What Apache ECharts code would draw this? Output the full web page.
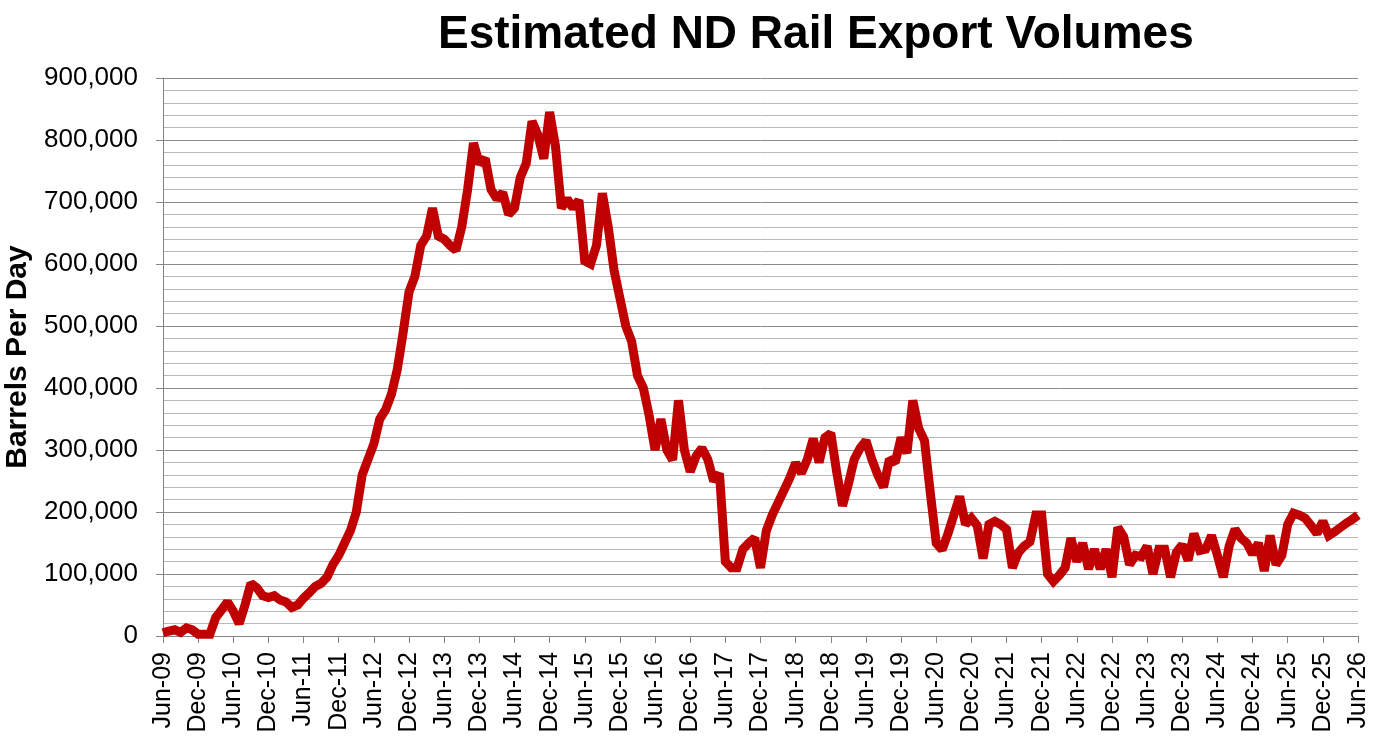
<!DOCTYPE html>
<html>
<head>
<meta charset="utf-8">
<script src="https://cdn.jsdelivr.net/npm/echarts@6/dist/echarts.min.js"></script>
<style>html,body{margin:0;padding:0;background:#fff}#c{width:1385px;height:749px}</style>
</head>
<body>
<div id="c"></div>
<script>
const monthNames = ['Jan','Feb','Mar','Apr','May','Jun','Jul','Aug','Sep','Oct','Nov','Dec'];
// monthly categories Jun-09 .. Jun-26
const categories = [];
for (let i = 0; i < 205; i++) {
  const mi = (5 + i) % 12;
  const yr = 9 + Math.floor((5 + i) / 12);
  categories.push(monthNames[mi] + '-' + String(yr).padStart(2, '0'));
}
const yTicks = [0,100000,200000,300000,400000,500000,600000,700000,800000,900000];
// barrels per day
const railVolumes = [
  5000, 8000, 10000, 6000, 13000, 10000, 3000, 3000, 3000, 30000,
  42000, 55000, 40000, 20000, 50000, 85000, 78000, 65000, 62000, 65000,
  58000, 55000, 46000, 50000, 61000, 70000, 80000, 85000, 95000, 115000,
  130000, 150000, 170000, 200000, 260000, 285000, 310000, 350000, 365000, 390000,
  430000, 490000, 555000, 580000, 630000, 645000, 690000, 645000, 640000, 630000,
  622000, 660000, 720000, 795000, 762000, 770000, 720000, 705000, 715000, 680000,
  690000, 740000, 762000, 830000, 808000, 770000, 845000, 790000, 690000, 705000,
  690000, 703000, 605000, 600000, 630000, 714000, 660000, 590000, 545000, 500000,
  475000, 420000, 400000, 355000, 300000, 350000, 300000, 284000, 380000, 300000,
  265000, 290000, 303000, 285000, 250000, 262000, 120000, 110000, 110000, 140000,
  150000, 158000, 110000, 170000, 195000, 215000, 235000, 255000, 279000, 263000,
  285000, 318000, 280000, 320000, 327000, 265000, 210000, 245000, 285000, 303000,
  315000, 285000, 260000, 240000, 285000, 280000, 320000, 295000, 380000, 335000,
  315000, 230000, 150000, 139000, 165000, 195000, 225000, 180000, 190000, 178000,
  125000, 180000, 185000, 180000, 172000, 110000, 134000, 145000, 152000, 195000,
  195000, 100000, 88000, 98000, 110000, 158000, 120000, 150000, 108000, 140000,
  108000, 140000, 95000, 175000, 160000, 115000, 130000, 128000, 145000, 100000,
  140000, 140000, 95000, 135000, 147000, 122000, 165000, 138000, 140000, 162000,
  130000, 95000, 145000, 172000, 158000, 150000, 132000, 150000, 105000, 162000,
  115000, 130000, 180000, 198000, 195000, 190000, 178000, 165000, 185000, 162000,
  168000, 175000, 182000, 188000, 195000
];

const FONT = '"Liberation Sans", Arial, sans-serif';
const chart = echarts.init(document.getElementById('c'), null, {renderer: 'canvas'});
chart.setOption({
  animation: false,
  backgroundColor: '#ffffff',
  title: {
    text: 'Estimated ND Rail Export Volumes',
    left: 433, top: 7,
    textStyle: {fontFamily: FONT, fontSize: 46, fontWeight: 'bold', color: '#000'}
  },
  grid: {left: 163, right: 27, top: 78, bottom: 113, containLabel: false, outerBoundsMode: 'none'},
  xAxis: {
    type: 'category',
    data: categories,
    boundaryGap: false,
    axisLine: {show: true, lineStyle: {color: '#868686', width: 1}},
    axisTick: {show: true, interval: 5, length: 7, lineStyle: {color: '#868686'}},
    axisLabel: {interval: 5, rotate: 90, fontSize: 25, fontFamily: FONT, color: '#000', margin: 16},
    splitLine: {show: false}
  },
  yAxis: {
    type: 'value',
    min: yTicks[0], max: yTicks[yTicks.length - 1], interval: 100000,
    name: 'Barrels Per Day',
    nameLocation: 'middle',
    nameGap: 128,
    nameTextStyle: {fontFamily: FONT, fontSize: 30, fontWeight: 'bold', color: '#000'},
    axisLine: {show: true, lineStyle: {color: '#868686', width: 1}},
    axisTick: {show: true, length: 7, lineStyle: {color: '#868686'}},
    axisLabel: {
      fontSize: 26, fontFamily: FONT, color: '#000', margin: 25,
      formatter: v => v.toLocaleString('en-US')
    },
    splitLine: {show: true, lineStyle: {color: '#8a8a8a', width: 1}},
    minorTick: {show: false, splitNumber: 5},
    minorSplitLine: {show: true, lineStyle: {color: '#b8b8b8', width: 1}}
  },
  series: [{
    type: 'line',
    data: railVolumes,
    showSymbol: false,
    symbol: 'none',
    lineStyle: {color: '#c00000', width: 9, join: 'miter', miterLimit: 1.6},
    z: 3
  }]
});
</script>
</body>
</html>
